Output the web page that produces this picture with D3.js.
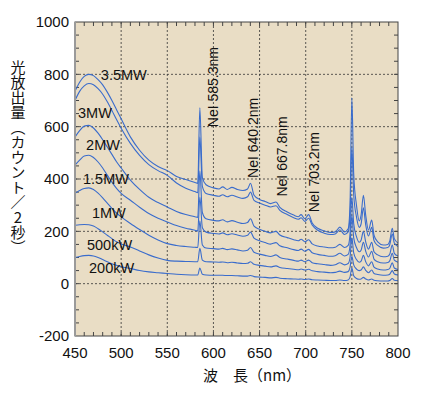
<!DOCTYPE html>
<meta charset="utf-8">
<script src="https://d3js.org/d3.v7.min.js"></script>
<style>
  body { margin: 0; background: #fff; }
  svg text { font-family: Arial, "Liberation Sans", sans-serif; fill: #111; }
  .grid line { stroke: #333; stroke-width: 0.8; stroke-dasharray: 2,2; }
  .spec { fill: none; stroke: #3a6ccc; stroke-width: 1.1; }
</style>
<div id="chart"></div>
<script>
// wavelength samples (nm)
var wavelengths = [450, 455, 460, 465, 470, 475, 480, 485, 490, 495,
  500, 510, 520, 530, 540, 550, 560, 570, 580, 583,
  585.3, 588, 592, 600, 606, 610, 615, 620, 626, 632,
  637, 640.2, 644, 650, 656, 662, 667.8, 672, 680, 687,
  692, 695, 699, 703.2, 707, 713, 720, 727, 732, 737,
  742, 746, 748, 750, 752, 755, 758, 760, 762.5, 765,
  768, 771.5, 774, 778, 784, 789, 791, 793.8, 796, 800];

// counts per 2 s for each power level
var mw35 = [735, 770, 792, 800, 795, 780, 760, 732, 700, 665,
  630, 561, 510, 472, 448, 432, 410, 398, 387, 383,
  672, 405, 378, 366, 362, 370, 360, 368, 360, 356,
  362, 384, 338, 322, 314, 306, 312, 292, 274, 262,
  256, 264, 248, 264, 232, 212, 202, 196, 198, 216,
  198, 210, 300, 710, 420, 300, 240, 262, 338, 262,
  205, 243, 185, 160, 148, 150, 162, 212, 172, 155];
var mw3 = [700, 735, 756, 765, 760, 745, 724, 695, 662, 627,
  594, 536, 490, 455, 432, 414, 385, 365, 352, 348,
  560, 372, 345, 338, 334, 340, 332, 338, 331, 326,
  332, 350, 318, 308, 300, 293, 298, 280, 264, 252,
  246, 252, 238, 250, 224, 204, 193, 188, 190, 206,
  188, 198, 260, 520, 340, 255, 215, 228, 290, 225,
  182, 215, 165, 146, 136, 138, 148, 190, 155, 142];
var mw2 = [560, 585, 602, 605, 595, 575, 550, 522, 494, 466,
  442, 396, 360, 330, 310, 293, 276, 264, 256, 253,
  430, 272, 248, 242, 240, 244, 236, 241, 235, 230,
  234, 248, 220, 208, 200, 194, 200, 186, 176, 168,
  164, 170, 160, 168, 152, 144, 140, 137, 139, 150,
  138, 146, 190, 330, 230, 180, 158, 166, 200, 160,
  132, 158, 122, 110, 103, 105, 112, 148, 116, 106];
var mw15 = [453, 472, 488, 491, 482, 465, 442, 415, 388, 364,
  345, 319, 292, 268, 250, 236, 222, 212, 204, 201,
  330, 214, 197, 192, 190, 194, 187, 191, 186, 181,
  185, 197, 174, 164, 157, 151, 157, 145, 137, 130,
  127, 132, 124, 131, 118, 112, 108, 105, 107, 116,
  106, 112, 145, 260, 175, 138, 122, 128, 158, 124,
  102, 124, 94, 84, 79, 81, 87, 116, 90, 82];
var mw1 = [345, 356, 364, 366, 360, 346, 328, 308, 288, 270,
  255, 230, 207, 185, 167, 153, 146, 142, 139, 138,
  240, 148, 136, 134, 132, 135, 130, 133, 129, 125,
  128, 138, 120, 113, 108, 104, 110, 100, 94, 89,
  86, 90, 84, 90, 80, 76, 73, 70, 72, 80,
  72, 77, 100, 175, 118, 92, 82, 86, 108, 84,
  68, 84, 63, 56, 52, 54, 58, 80, 60, 54];
var kw500 = [223, 225, 226, 225, 220, 210, 198, 185, 172, 160,
  152, 140, 125, 110, 98, 89, 86, 85, 84, 84,
  135, 90, 84, 83, 82, 83, 80, 82, 79, 77,
  78, 84, 74, 70, 67, 64, 68, 62, 58, 55,
  53, 56, 52, 55, 49, 46, 44, 42, 43, 48,
  43, 46, 62, 105, 72, 56, 50, 52, 64, 51,
  42, 52, 39, 35, 32, 33, 36, 50, 37, 33];
var kw200 = [100, 104, 107, 108, 106, 100, 92, 84, 76, 70,
  65, 58, 50, 45, 42, 39, 36, 34, 33, 33,
  60, 36, 33, 32, 32, 32, 31, 31, 30, 29,
  29, 31, 27, 25, 24, 22, 24, 21, 19, 18,
  17, 18, 16, 18, 15, 14, 13, 12, 12, 14,
  12, 14, 25, 60, 30, 20, 17, 18, 24, 18,
  14, 18, 13, 11, 10, 10, 12, 20, 13, 11];

var seriesValues = [mw35, mw3, mw2, mw15, mw1, kw500, kw200];
var seriesNames = ["3.5MW", "3MW", "2MW", "1.5MW", "1MW", "500kW", "200kW"];
// label anchor (left edge): wavelength and count where each power label sits
var nameLambda = [478, 453.3, 462, 458.7, 468.4, 463, 465.2];
var nameCount = [797, 652, 529, 402, 271, 149, 59];

var lineNames = ["NeI 585.3nm", "NeI 640.2nm", "NeI 667.8nm", "NeI 703.2nm"];
var lineLambda = [585.3, 640.2, 667.8, 703.2];
var lineLabelBase = [598, 404, 333, 273];

var xTicks = [450, 500, 550, 600, 650, 700, 750, 800];
var yTicks = [-200, 0, 200, 400, 600, 800, 1000];

var margin = { top: 22, right: 27, bottom: 61, left: 75 },
  width = 425 - margin.left - margin.right,
  height = 397 - margin.top - margin.bottom;

var svg = d3.select("#chart").append("svg")
  .attr("width", 425)
  .attr("height", 397)
  .append("g")
  .attr("transform", "translate(" + margin.left + "," + margin.top + ")");

var x = d3.scaleLinear().domain([450, 800]).range([0, width]);
var y = d3.scaleLinear().domain([-200, 1000]).range([height, 0]);

// plot background
svg.append("rect")
  .attr("width", width).attr("height", height)
  .attr("fill", "#e9ddc5");

// dashed grid
var grid = svg.append("g").attr("class", "grid");
grid.selectAll(".gx").data(xTicks.slice(1, -1)).enter().append("line")
  .attr("x1", x).attr("x2", x).attr("y1", 0).attr("y2", height);
grid.selectAll(".gy").data(yTicks.slice(1, -1)).enter().append("line")
  .attr("y1", y).attr("y2", y).attr("x1", 0).attr("x2", width);

// inward minor ticks
var ticks = svg.append("g").attr("stroke", "#444").attr("stroke-width", 1);
var xMinor = d3.range(460, 800, 10);
ticks.selectAll(".tb").data(xMinor).enter().append("line")
  .attr("x1", x).attr("x2", x).attr("y1", height).attr("y2", height - 4);
ticks.selectAll(".tt").data(xMinor).enter().append("line")
  .attr("x1", x).attr("x2", x).attr("y1", 0).attr("y2", 4);
var yMinor = d3.range(-150, 1000, 50);
ticks.selectAll(".tl").data(yMinor).enter().append("line")
  .attr("y1", y).attr("y2", y).attr("x1", 0).attr("x2", 4);
ticks.selectAll(".tr").data(yMinor).enter().append("line")
  .attr("y1", y).attr("y2", y).attr("x1", width).attr("x2", width - 4);

// spectra
var line = d3.line()
  .x(function (d, i) { return x(wavelengths[i]); })
  .y(function (d) { return y(d); })
  .curve(d3.curveMonotoneX);

svg.selectAll(".spec").data(seriesValues).enter().append("path")
  .attr("class", "spec")
  .attr("d", line);

// frame
svg.append("rect")
  .attr("width", width).attr("height", height)
  .attr("fill", "none").attr("stroke", "#444").attr("stroke-width", 1);
svg.append("line")
  .attr("x1", 0).attr("x2", 0).attr("y1", 0).attr("y2", height)
  .attr("stroke", "#9a9a9a").attr("stroke-width", 2);

// tick labels
svg.selectAll(".xl").data(xTicks).enter().append("text")
  .attr("x", x).attr("y", height + 22)
  .attr("text-anchor", "middle")
  .style("font-size", "15px")
  .text(function (d) { return d; });

svg.selectAll(".yl").data(yTicks).enter().append("text")
  .attr("x", -6).attr("y", y).attr("dy", "0.36em")
  .attr("text-anchor", "end")
  .style("font-size", "15px")
  .text(function (d) { return d; });

// power labels
svg.selectAll(".pl").data(seriesNames).enter().append("text")
  .attr("x", function (d, i) { return x(nameLambda[i]); })
  .attr("y", function (d, i) { return y(nameCount[i]); })
  .attr("dy", "0.36em")
  .attr("text-anchor", "start")
  .style("font-size", "14.5px")
  .text(function (d) { return d; });

// neon line labels
svg.selectAll(".nl").data(lineNames).enter().append("text")
  .attr("transform", function (d, i) {
    var dx = [18, 7, 11, 10][i];
    return "translate(" + (x(lineLambda[i]) + dx) + "," + y(lineLabelBase[i]) + ")rotate(-90)";
  })
  .style("font-size", "14px")
  .text(function (d) { return d; });

// axis titles
svg.append("text")
  .attr("x", 128).attr("y", height + 45)
  .style("font-family", "'Noto Sans CJK JP', sans-serif")
  .style("font-size", "15px")
  .text("波　長（nm）");

svg.append("text")
  .attr("x", -57).attr("y", 38)
  .style("font-family", "'Noto Sans CJK JP', sans-serif")
  .style("font-size", "15px")
  .style("writing-mode", "vertical-rl")
  .style("text-orientation", "upright")
  .text("光放出量（カウント／2秒）");
</script>
